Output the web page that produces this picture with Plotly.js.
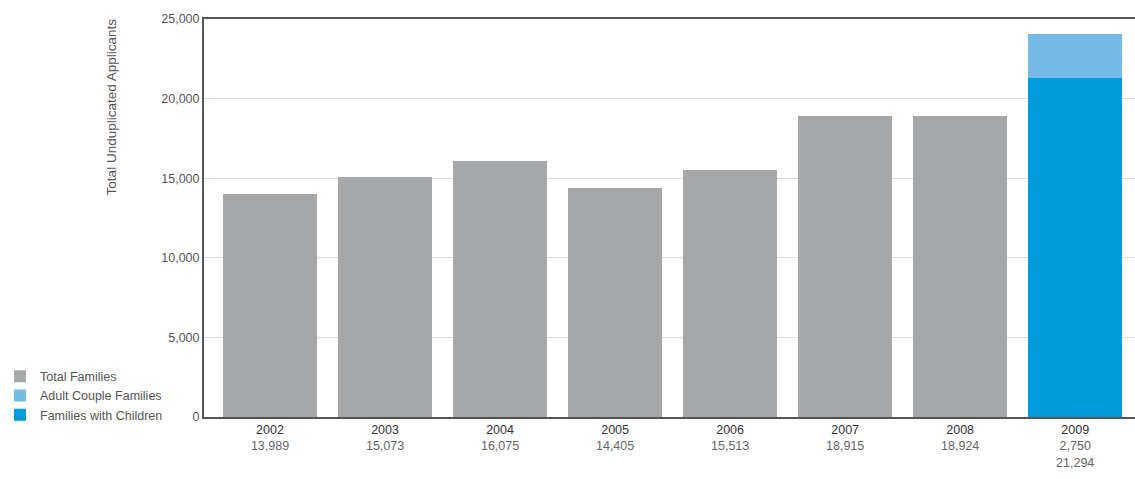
<!DOCTYPE html>
<html>
<head>
<meta charset="utf-8">
<script src="https://cdn.plot.ly/plotly-3.0.1.min.js"></script>
<style>html,body{margin:0;padding:0;background:#fff;}#chart{width:1135px;height:479px;}</style>
</head>
<body>
<div id="chart"></div>
<script>
const years = ['2002','2003','2004','2005','2006','2007','2008','2009'];
const totalYears = ['2002','2003','2004','2005','2006','2007','2008'];
const totalFamilies = [13989, 15073, 16075, 14405, 15513, 18915, 18924];
const childYears = ['2009'];
const familiesWithChildren = [21294];
const adultCoupleFamilies = [2750];
const tickLines = [
  ['13,989'], ['15,073'], ['16,075'], ['14,405'], ['15,513'], ['18,915'], ['18,924'], ['2,750', '21,294']
];

const tickText = years.map((y, i) =>
  '<span style="color:#333">' + y + '</span><br>' +
  tickLines[i].map(v => '<span style="color:#666">' + v + '</span>').join('<br>')
);

const traces = [
  {type:'bar', name:'Total Families', x: totalYears, y: totalFamilies,
   marker:{color:'#a5a7a9'}, legendrank:1},
  {type:'bar', name:'Families with Children', x: childYears, y: familiesWithChildren,
   marker:{color:'#009bdb'}, legendrank:3},
  {type:'bar', name:'Adult Couple Families', x: childYears, y: adultCoupleFamilies,
   marker:{color:'#76bae8'}, legendrank:2}
];

const layout = {
  width:1135, height:479,
  margin:{l:204, r:0, t:19, b:62},
  paper_bgcolor:'#fff', plot_bgcolor:'#fff',
  font:{family:'"Liberation Sans", Arial, sans-serif', size:12.5, color:'#555'},
  barmode:'stack', bargap:0.18,
  showlegend:true,
  legend:{xref:'container', yref:'container', x:0, y:0.245, xanchor:'left', yanchor:'top',
          traceorder:'normal', font:{size:12.5, color:'#555'}, tracegroupgap:0, itemwidth:30,
          bgcolor:'rgba(0,0,0,0)'},
  xaxis:{type:'category', categoryorder:'array', categoryarray:years,
         range:[-0.574, 7.52], tickmode:'array', tickvals:years, ticktext:tickText,
         showline:true, linecolor:'#555', linewidth:2, mirror:true,
         ticks:'', showgrid:false, tickfont:{size:12.5}, fixedrange:true},
  yaxis:{range:[0, 25000], tickvals:[0,5000,10000,15000,20000,25000], tickformat:',d',
         showline:true, linecolor:'#555', linewidth:2, ticks:'',
         showgrid:true, gridcolor:'#dcdcdc', gridwidth:1, zeroline:false,
         tickfont:{size:12.5, color:'#555'}, fixedrange:true},
  annotations:[{text:'Total Unduplicated Applicants', textangle:-90, xref:'paper', yref:'paper',
                x:-0.099, y:0.78, xanchor:'center', yanchor:'middle', showarrow:false,
                font:{size:13.5, color:'#555'}}]
};

Plotly.newPlot('chart', traces, layout, {displayModeBar:false, staticPlot:true});
</script>
</body>
</html>
